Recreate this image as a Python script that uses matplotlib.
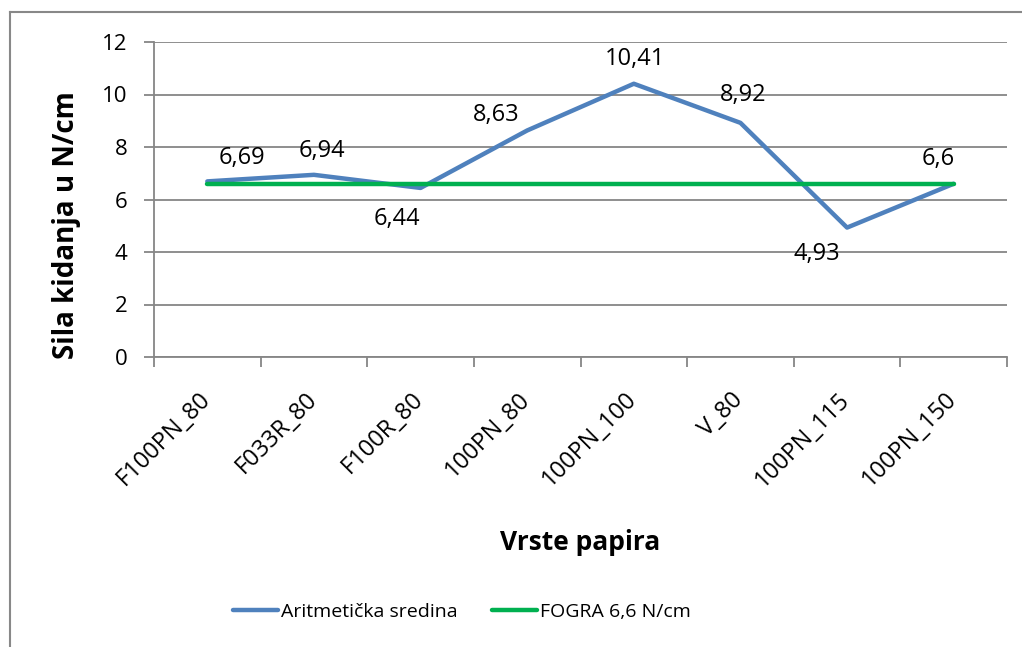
import matplotlib.pyplot as plt
import matplotlib.transforms as mtransforms
from matplotlib.lines import Line2D

plt.rcParams['font.family'] = ['Open Sans', 'DejaVu Sans']

# paper types and measured tearing force
papers = ["F100PN_80", "F033R_80", "F100R_80", "100PN_80",
          "100PN_100", "V_80", "100PN_115", "100PN_150"]
sila = [6.69, 6.94, 6.44, 8.63, 10.41, 8.92, 4.93, 6.6]
sila_txt = ["6,69", "6,94", "6,44", "8,63", "10,41", "8,92", "4,93", "6,6"]
fogra = 6.6

# hand-placed label offsets (points)
lbl_off = [(25, 17), (6, 17), (-17, -22), (-22, 11), (1, 18), (2, 20), (-22, -19), (-11, 18)]

W, H = 1022, 647
fig = plt.figure(figsize=(W / 100, H / 100), dpi=100)
ax = fig.add_axes([154 / W, 1 - 357 / H, (1007 - 154) / W, (357 - 42) / H])

grid_c = "#868686"
blue = "#4F81BD"
green = "#00B050"

x = list(range(len(papers)))
ax.plot(x, sila, color=blue, lw=3.2, solid_capstyle="round", solid_joinstyle="round",
        label="Aritmetička sredina", zorder=3)
ax.plot([x[0], x[-1]], [fogra, fogra], color=green, lw=3.2, solid_capstyle="round",
        label="FOGRA 6,6 N/cm", zorder=4)

for xi, v, t, (dx, dy) in zip(x, sila, sila_txt, lbl_off):
    ax.annotate(t, (xi, v), xytext=(dx, dy), textcoords="offset points",
                ha="center", va="center", fontsize=17, zorder=5)

ax.set_xlim(-0.5, len(papers) - 0.5)
ax.set_ylim(0, 12)
ax.set_yticks(range(0, 13, 2))
ax.set_yticklabels([str(v) for v in range(0, 13, 2)], fontsize=16)
ax.yaxis.grid(True, color=grid_c, lw=1.3)
ax.set_axisbelow(True)

# category boundaries as major ticks, names on minor ticks
ax.set_xticks([i - 0.5 for i in range(len(papers) + 1)])
ax.set_xticklabels([])
ax.set_xticks(x, minor=True)
ax.set_xticklabels(papers, minor=True, rotation=45, ha="right", va="top",
                   rotation_mode="anchor", fontsize=17)
ax.tick_params(axis="x", which="minor", length=0, pad=22)
ax.tick_params(axis="x", which="major", length=7, width=1.3, color=grid_c, direction="out")
ax.tick_params(axis="y", length=7, width=1.3, color=grid_c, direction="out", pad=12)
shift = mtransforms.ScaledTranslation(-9 / 100, 0, fig.dpi_scale_trans)
for lbl in ax.get_xticklabels(minor=True):
    lbl.set_transform(lbl.get_transform() + shift)

for s in ["top", "right"]:
    ax.spines[s].set_visible(False)
for s in ["left", "bottom"]:
    ax.spines[s].set_color(grid_c)
    ax.spines[s].set_linewidth(1.3)

fig.text(67 / W, 1 - 225 / H, "Sila kidanja u N/cm", fontsize=20, fontweight="bold",
         rotation=90, ha="center", va="center")
fig.text(580 / W, 1 - 543 / H, "Vrste papira", fontsize=19, fontweight="bold",
         ha="center", va="center")

handles = [Line2D([0], [0], color=blue, lw=3.2, solid_capstyle="round"),
           Line2D([0], [0], color=green, lw=3.2, solid_capstyle="round")]
fig.legend(handles, ["Aritmetička sredina", "FOGRA 6,6 N/cm"], loc="center",
           bbox_to_anchor=(462 / W, 1 - 612 / H), ncol=2, frameon=False, fontsize=14,
           handlelength=2.3, handletextpad=0.15, columnspacing=1.8)

# chart frame
fig.add_artist(Line2D([9.5 / W, 9.5 / W], [1 - 12 / H, 0], color="#888888", lw=1.5,
                      transform=fig.transFigure))
fig.add_artist(Line2D([9.5 / W, 1], [1 - 12 / H, 1 - 12 / H], color="#888888", lw=1.5,
                      transform=fig.transFigure))

fig.savefig("out.png", dpi=100)
